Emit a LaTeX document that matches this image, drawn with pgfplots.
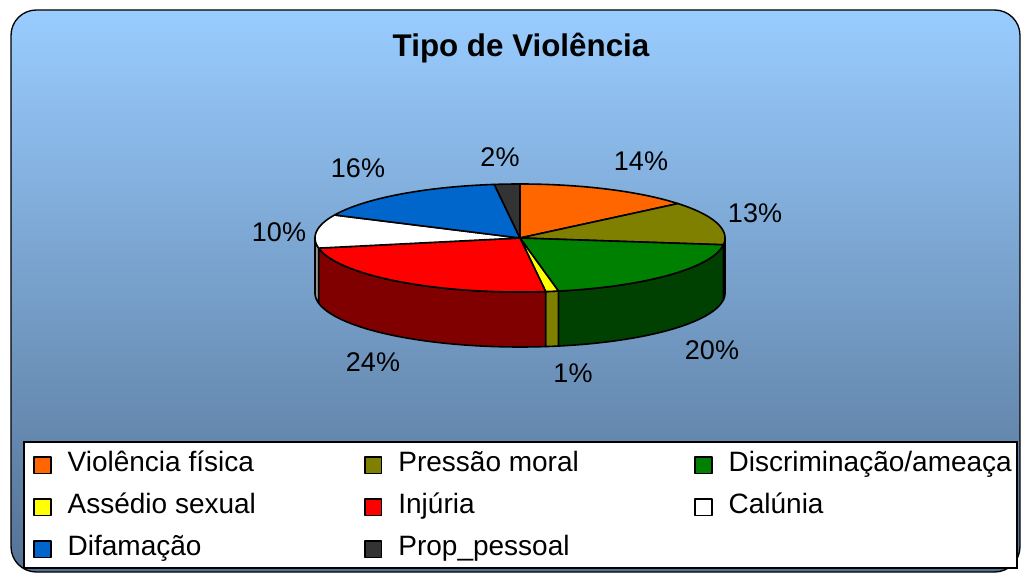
\documentclass[border=0pt]{standalone}
\usepackage{pgfplots}
\pgfplotsset{compat=1.18}
\usepackage{fontspec}
\setmainfont{Liberation Sans}

\definecolor{cOrange}{RGB}{255,102,0}
\definecolor{cOlive}{RGB}{128,128,0}
\definecolor{cGreen}{RGB}{0,128,0}
\definecolor{cYellow}{RGB}{255,255,0}
\definecolor{cRed}{RGB}{255,0,0}
\definecolor{cWhite}{RGB}{255,255,255}
\definecolor{cBlue}{RGB}{0,102,204}
\definecolor{cGray}{RGB}{51,51,51}
\definecolor{dOlive}{RGB}{64,64,0}
\definecolor{dGreen}{RGB}{0,64,0}
\definecolor{dYellow}{RGB}{128,128,0}
\definecolor{dRed}{RGB}{128,0,0}
\definecolor{dWhite}{RGB}{150,150,150}
\definecolor{bgTop}{RGB}{153,204,255}
\definecolor{bgBot}{RGB}{84,114,148}

% Percentages: Violencia fisica 14, Pressao moral 13, Discriminacao/ameaca 20,
% Assedio sexual 1, Injuria 24, Calunia 10, Difamacao 16, Prop_pessoal 2
% Slices are given by their cumulative start and end percentage.
\newcommand{\TopSlice}[3]{%
 \addplot[fill=#1, draw=black, line width=1.2pt, line join=round, variable=\t, domain=0:3, samples=121]
 ({520+205*min(1,abs(2-\t))*sin(3.6*(#2+(#3-#2)*min(\t,1)*(\t<2)))},
  {238-54*min(1,abs(2-\t))*cos(3.6*(#2+(#3-#2)*min(\t,1)*(\t<2)))});}
\newcommand{\SideSlice}[3]{%
 \addplot[forget plot, fill=#1, draw=black, line width=1.2pt, line join=round, variable=\t, domain=0:4, samples=161]
 ({520+205*sin(3.6*(#2+(#3-#2)*max(min(min(\t,1),3-\t),0)))},
  {238-54*cos(3.6*(#2+(#3-#2)*max(min(min(\t,1),3-\t),0)))+55*min(min(max(\t-1,0),1),4-\t)});}

\begin{document}
\begin{tikzpicture}
\begin{axis}[
  hide axis, scale only axis,
  width=765.75pt, height=430.5pt,
  xmin=0, xmax=1021, ymin=0, ymax=574,
  y dir=reverse, clip=false,
  legend columns=3,
  legend cell align=left,
  legend image code/.code={\draw[#1, line width=1.4pt] (0pt,-6.2pt) rectangle (12.4pt,6.2pt);},
  legend style={at={(axis cs:33,449)}, anchor=north west, draw=none, fill=none, inner sep=0pt,
    font=\fontsize{21}{25}\selectfont,
    nodes={inner sep=2pt, text height=15pt, text depth=5pt},
    row sep=7.5pt, column sep=0pt,
    /tikz/every odd column/.append style={column sep=10pt},
    /tikz/column 2/.append style={column sep=79pt},
    /tikz/column 4/.append style={column sep=84.5pt}},
]
\path (axis cs:0,0) rectangle (axis cs:1021,574);
\draw[line width=1pt, rounded corners=19pt, top color=bgTop, bottom color=bgBot]
  (axis cs:11,10) rectangle (axis cs:1020,572);
\draw[line width=0.8pt, fill=white] (axis cs:24,442) rectangle (axis cs:1017,568);

\SideSlice{dOlive}{25}{27}
\SideSlice{dGreen}{27}{47}
\SideSlice{dYellow}{47}{48}
\SideSlice{dRed}{48}{72}
\SideSlice{dWhite}{72}{75}

\TopSlice{cOrange}{0}{14}   \addlegendentry{Violência física}
\TopSlice{cOlive}{14}{27}   \addlegendentry{Pressão moral}
\TopSlice{cGreen}{27}{47}   \addlegendentry{Discriminação/ameaça}
\TopSlice{cYellow}{47}{48}  \addlegendentry{Assédio sexual}
\TopSlice{cRed}{48}{72}     \addlegendentry{Injúria}
\TopSlice{cWhite}{72}{82}   \addlegendentry{Calúnia}
\TopSlice{cBlue}{82}{98}    \addlegendentry{Difamação}
\TopSlice{cGray}{98}{100}   \addlegendentry{Prop\_pessoal}

\node[font=\bfseries\fontsize{23.5}{28}\selectfont] at (axis cs:521,48) {Tipo de Violência};
\begin{scope}[every node/.style={font=\fontsize{20.25}{24}\selectfont}]
\node at (axis cs:641,161) {14\%};
\node at (axis cs:755,213) {13\%};
\node at (axis cs:712,350) {20\%};
\node at (axis cs:573,373) {1\%};
\node at (axis cs:373,362) {24\%};
\node at (axis cs:279,232) {10\%};
\node at (axis cs:358,168) {16\%};
\node at (axis cs:500,157) {2\%};
\end{scope}
\end{axis}
\end{tikzpicture}
\end{document}
